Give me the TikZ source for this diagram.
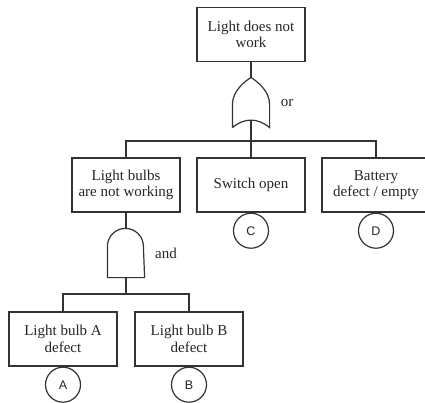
\documentclass[tikz,border=0pt]{standalone}
\usepackage{fontspec}
\setmainfont{Liberation Serif}
\newfontfamily\evfont{Liberation Sans}
\begin{document}
\begin{tikzpicture}[x=1pt,y=-1pt,
  line width=1.2pt, draw=black!80,
  event/.style={draw, minimum width=108pt, minimum height=54pt, align=center,
    font=\fontsize{15}{16.5}\selectfont, inner sep=2pt, text=black!85},
  basic/.style={draw, circle, minimum size=35pt, inner sep=0pt,
    font=\evfont\fontsize{12.5}{14}\selectfont, text=black!85},
  gatebox/.style={minimum width=36pt, minimum height=49pt, inner sep=0pt},
  lbl/.style={font=\fontsize{15}{16}\selectfont, inner sep=0pt, text=black!85}]
\clip (0,0) rectangle (425,402);
\fill[white] (0,0) rectangle (425,402);

% events
\node[event] (top) at (251,34.5) {Light does not\\work};
\node[event] (lb)  at (126,185) {Light bulbs\\are not working};
\node[event] (sw)  at (251,185) {Switch open};
\node[event] (bat) at (376,185) {Battery\\defect / empty};
\node[event] (ba)  at (63,339)  {Light bulb A\\defect};
\node[event] (bb)  at (189,339) {Light bulb B\\defect};

% basic event markers
\node[basic, anchor=north] (c) at (sw.south)  {C};
\node[basic, anchor=north] (d) at (bat.south) {D};
\node[basic, anchor=north] (a) at (ba.south)  {A};
\node[basic, anchor=north] (b) at (bb.south)  {B};

% OR gate
\node[gatebox] (or) at (251,102.5) {};
\draw (or.south west) -- ++(0,-23)
  .. controls +(0,-14) and +(-6,4) .. (or.north)
  .. controls +(6,4) and +(0,-14) .. ([yshift=23pt]or.south east)
  -- (or.south east)
  .. controls +(-12,-10) and +(12,-10) .. (or.south west);
\coordinate (orout) at (251,119.5);
\node[lbl] (orl) at (287,103) {or};

% AND gate (flat base, round top)
\node[gatebox, minimum height=48pt] (and) at (126,253) {};
\draw (and.south west) -- ([yshift=-18pt]and.north west)
  arc[start angle=180, end angle=0, radius=18pt]
  -- (and.south east) -- cycle;
\node[lbl] (andl) at (166,253) {and};

% connectors
\coordinate (orbus) at (251,141);
\coordinate (andbus) at (126,294);
\draw (top.south) -- (or.north);
\draw (orout) -- (orbus);
\draw (lb.north) |- (orbus) -| (bat.north);
\draw (sw.north) -- (orbus);
\draw (lb.south) -- (and.north);
\draw (and.south) -- (andbus);
\draw (ba.north) |- (andbus) -| (bb.north);
\end{tikzpicture}
\end{document}
